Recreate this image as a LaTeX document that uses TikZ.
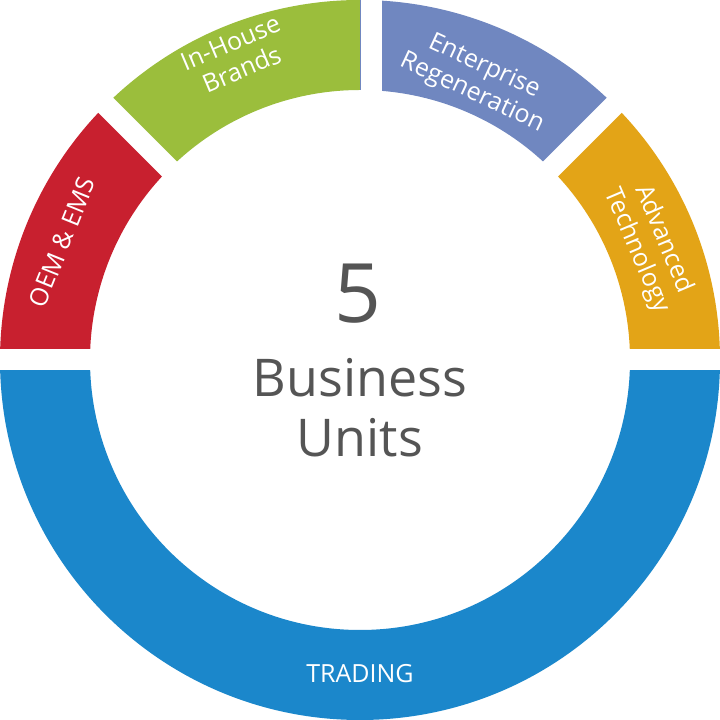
\documentclass[tikz,border=0pt]{standalone}
\usepackage{fontspec}
\setmainfont{Open Sans}
\definecolor{cred}{HTML}{C8202F}
\definecolor{cgreen}{HTML}{9BBE3C}
\definecolor{cpurp}{HTML}{7087C0}
\definecolor{corange}{HTML}{E3A417}
\definecolor{cblue}{HTML}{1B87CB}
\definecolor{cgray}{HTML}{555555}
\begin{document}
\begin{tikzpicture}[x=1pt,y=1pt,
  seglabel/.style={text=white,font=\fontsize{25}{29}\selectfont,align=center,inner sep=1pt},
  gap/.style={white,line width=21pt}]
\fill[white] (0,0) rectangle (720,720);
\useasboundingbox (0,0) rectangle (720,720);
\newcommand{\seg}[3]{\fill[#1] ([shift={(360,360)}]#2:360) arc[start angle=#2,end angle=#3,radius=360] -- ([shift={(360,360)}]#3:270) arc[start angle=#3,end angle=#2,radius=270] -- cycle;}
\seg{cblue}{180}{360}
\seg{cred}{135}{180}
\seg{cgreen}{90}{135}
\seg{cpurp}{45}{90}
\seg{corange}{0}{45}
\coordinate (c) at (360,360.5);
\draw[gap] (-10,360.5) -- (730,360.5);
\draw[gap] (371,360) -- (371,730);
\draw[gap] (c) -- ++(135:400);
\draw[gap] (c) -- ++(45:400);
\node[text=cgray,font=\fontsize{82}{82}\selectfont] (five) at (358,426) {5};
\node[text=cgray,font=\fontsize{52}{60}\selectfont,align=center] (bu) at (360,312) {Business\\Units};
\node[seglabel,rotate=68] (oem) at (62,478) {OEM \& EMS};
\node[seglabel,rotate=23] (inh) at (236,664) {In-House\\Brands};
\node[seglabel,rotate=-25] (ent) at (478,640) {Enterprise\\Regeneration};
\node[seglabel,rotate=-67] (adv) at (650,475) {Advanced\\Technology};
\node[seglabel] (tr) at (360,46) {TRADING};
\end{tikzpicture}
\end{document}
